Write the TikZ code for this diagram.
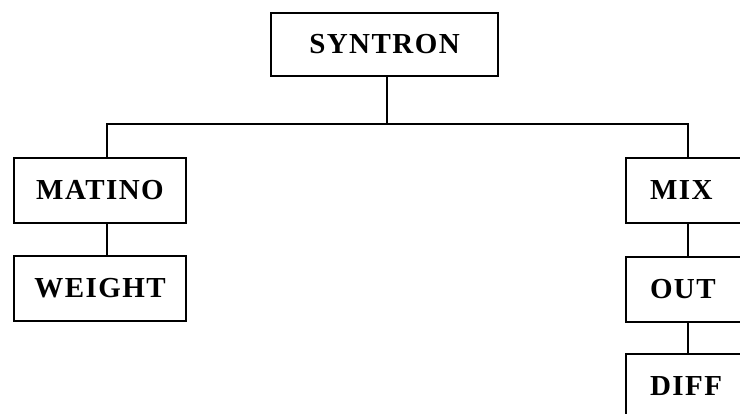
\documentclass[tikz,border=0pt]{standalone}
\usepackage{fontspec}
\setmainfont{Liberation Serif}[LetterSpace=5]
\begin{document}
\begin{tikzpicture}[x=1pt,y=-1pt,
  box/.style={draw,line width=2pt,rectangle,inner sep=0pt,anchor=north west,
    font=\fontsize{29}{31}\selectfont\bfseries},
  lbox/.style={box,minimum height=65pt,minimum width=172pt},
  rbox/.style={box,minimum height=65pt,text width=112pt,align=left,inner xsep=24pt},
  conn/.style={line width=2pt}]
\clip (0,0) rectangle (740,414);
\useasboundingbox (0,0) rectangle (740,414);
\node[box,minimum width=227pt,minimum height=63pt] (syn) at (270,12) {SYNTRON};
\node[lbox] (mat) at (13,157) {MATINO};
\node[lbox] (wei) at (13,255) {WEIGHT};
\node[rbox] (mix) at (625,157) {MIX};
\node[rbox] (out) at (625,256) {OUT};
\node[rbox] (dif) at (625,353) {DIFF};
\coordinate (bus) at (387,124);
\coordinate (jl) at (107,124);
\coordinate (jr) at (688,124);
\draw[conn] (syn.south -| bus) -- (bus);
\draw[conn] (jl |- mat.north) -- (jl) -- (jr) -- (jr |- mix.north);
\draw[conn] (jl |- mat.south) -- (jl |- wei.north);
\draw[conn] (jr |- mix.south) -- (jr |- out.north);
\draw[conn] (jr |- out.south) -- (jr |- dif.north);
\end{tikzpicture}
\end{document}
